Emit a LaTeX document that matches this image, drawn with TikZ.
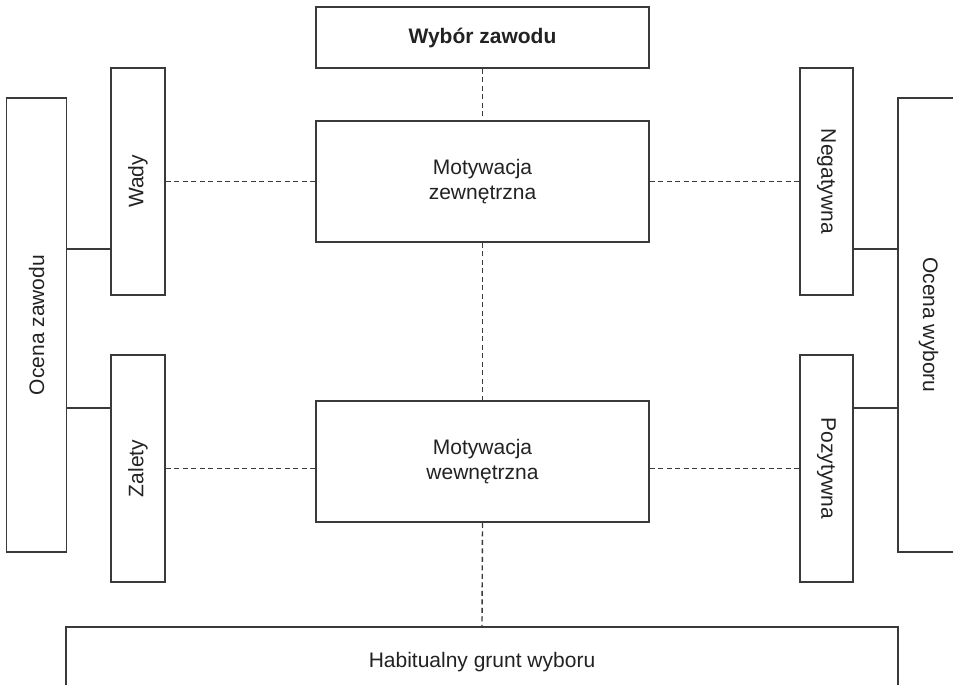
\documentclass[tikz,border=0pt]{standalone}
\usepackage{fontspec}
\setmainfont{Liberation Sans}
\usepackage{graphicx}
\definecolor{ln}{HTML}{3A3A3A}
\definecolor{tx}{HTML}{222222}
\tikzset{
  boxnode/.style={draw=ln, line width=1.5pt, fill=white, text=tx, inner sep=0pt, align=center,
    font=\fontsize{21}{24.5}\selectfont},
  dashconn/.style={draw=ln, line width=1.4pt, dash pattern=on 5pt off 3.5pt},
  solidconn/.style={draw=ln, line width=1.5pt}
}
\begin{document}
\begin{tikzpicture}[x=1pt,y=-1pt]
\useasboundingbox (0,0) rectangle (953,685);
\clip (0,0) rectangle (953,685);
\fill[white] (0,0) rectangle (953,685);
% nodes
\node[boxnode, minimum width=333pt, minimum height=61pt, font=\fontsize{21}{24.5}\selectfont\bfseries] (wybor) at (482.5,37.5) {Wybór zawodu};
\node[boxnode, minimum width=333pt, minimum height=121pt] (mz) at (482.5,181.5) {Motywacja\\zewnętrzna};
\node[boxnode, minimum width=333pt, minimum height=121pt] (mw) at (482.5,461.5) {Motywacja\\wewnętrzna};
\node[boxnode, minimum width=832pt, minimum height=70pt] (hab) at (482,662) {Habitualny grunt wyboru};
\node[boxnode, minimum width=54pt, minimum height=227pt] (wady) at (138,181.5) {\rotatebox{90}{Wady}};
\node[boxnode, minimum width=54pt, minimum height=227pt] (zalety) at (138,468.5) {\rotatebox{90}{Zalety}};
\node[boxnode, minimum width=60pt, minimum height=454pt] (ocz) at (36.5,325) {\rotatebox{90}{Ocena zawodu}};
\node[boxnode, minimum width=53pt, minimum height=227pt] (neg) at (826.5,181.5) {\rotatebox{-90}{Negatywna}};
\node[boxnode, minimum width=53pt, minimum height=227pt] (poz) at (826.5,468.5) {\rotatebox{-90}{Pozytywna}};
\node[boxnode, minimum width=61pt, minimum height=454pt] (ocw) at (928.5,325) {\rotatebox{-90}{Ocena wyboru}};
% helper coordinates
\coordinate (c1) at (0,249);
\coordinate (c2) at (0,408);
% dashed connectors
\draw[dashconn] (wybor.south) -- (mz.north);
\draw[dashconn] (mz.south) -- (mw.north);
\draw[dashconn] (mw.south) -- (hab.north);
\draw[dashconn] (wady.east) -- (mz.west);
\draw[dashconn] (mz.east) -- (neg.west);
\draw[dashconn] (zalety.east) -- (zalety.east -| mw.west);
\draw[dashconn] (poz.west -| mw.east) -- (poz.west);
% solid connectors
\draw[solidconn] (ocz.east |- c1) -- (wady.west |- c1);
\draw[solidconn] (ocz.east |- c2) -- (zalety.west |- c2);
\draw[solidconn] (neg.east |- c1) -- (ocw.west |- c1);
\draw[solidconn] (poz.east |- c2) -- (ocw.west |- c2);
\end{tikzpicture}
\end{document}
